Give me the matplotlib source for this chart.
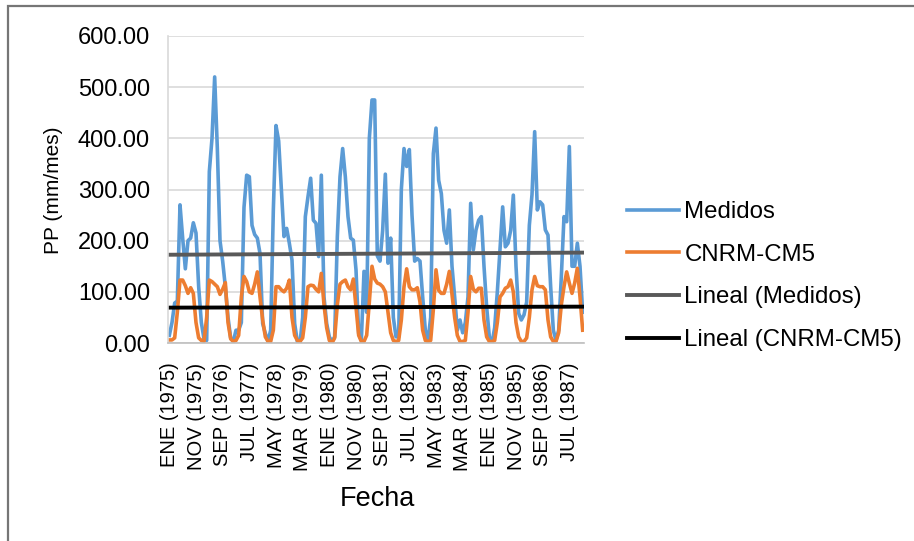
import numpy as np
import matplotlib
matplotlib.use("Agg")
import matplotlib.pyplot as plt
from matplotlib.patches import Rectangle

plt.rcParams["font.family"] = ["Liberation Sans", "DejaVu Sans"]

# Precipitación mensual, ENE 1975 - DIC 1987 (mm/mes)
medidos = [
    15, 40, 78, 82, 270, 205, 145, 200, 205, 235, 215, 110,
    40, 8, 5, 335, 400, 520, 380, 200, 160, 110, 50, 10,
    3, 25, 25, 40, 265, 328, 325, 230, 212, 205, 175, 38,
    19, 3, 25, 260, 425, 395, 300, 208, 224, 195, 162, 38,
    3, 0, 50, 247, 286, 322, 240, 234, 169, 328, 90, 38,
    12, 3, 12, 208, 325, 380, 325, 247, 205, 201, 143, 19,
    5, 140, 60, 400, 475, 475, 170, 160, 220, 330, 156, 205,
    50, 12, 12, 300, 380, 345, 378, 250, 160, 165, 160, 90,
    25, 5, 50, 370, 420, 318, 292, 220, 195, 260, 150, 90,
    25, 45, 20, 40, 90, 273, 182, 221, 240, 247, 150, 70,
    12, 0, 30, 100, 182, 266, 188, 195, 220, 289, 150, 58,
    45, 55, 80, 230, 290, 413, 260, 276, 270, 221, 211, 110,
    25, 5, 25, 130, 247, 237, 384, 150, 150, 195, 150, 60,
]

cnrm_cm5 = [
    6, 6, 10, 60, 123, 123, 112, 97, 108, 97, 40, 10,
    5, 3, 50, 123, 120, 115, 110, 95, 105, 118, 40, 8,
    3, 5, 15, 90, 130, 120, 100, 97, 115, 139, 90, 45,
    12, 3, 3, 25, 110, 110, 104, 100, 107, 123, 50, 15,
    5, 3, 10, 50, 110, 113, 112, 105, 100, 136, 75, 30,
    5, 0, 10, 75, 115, 120, 123, 110, 104, 125, 70, 15,
    3, 3, 15, 80, 150, 125, 117, 115, 110, 100, 60, 20,
    5, 3, 5, 45, 110, 145, 110, 104, 104, 108, 80, 25,
    5, 3, 5, 65, 143, 103, 97, 97, 115, 140, 95, 50,
    15, 3, 3, 5, 60, 130, 105, 100, 107, 107, 45, 12,
    3, 3, 5, 40, 90, 97, 107, 110, 123, 100, 40, 12,
    3, 3, 10, 50, 104, 130, 112, 110, 110, 104, 45, 12,
    3, 3, 20, 75, 110, 139, 117, 97, 117, 146, 90, 25,
]

etiquetas = [
    "ENE (1975)", "NOV (1975)", "SEP (1976)", "JUL (1977)",
    "MAY (1978)", "MAR (1979)", "ENE (1980)", "NOV (1980)",
    "SEP (1981)", "JUL (1982)", "MAY (1983)", "MAR (1984)",
    "ENE (1985)", "NOV (1985)", "SEP (1986)", "JUL (1987)",
]
paso_etiquetas = 10

y_ticks = [0, 100, 200, 300, 400, 500, 600]

x = np.arange(len(medidos))
med = np.array(medidos, dtype=float)
cnrm = np.array(cnrm_cm5, dtype=float)

# Líneas de tendencia (ajuste lineal)
p_med = np.polyfit(x, med, 1)
p_cnrm = np.polyfit(x, cnrm, 1)

fig = plt.figure(figsize=(9.14, 5.41), dpi=100)
ax = fig.add_axes([168 / 914, 1 - 343 / 541, (584 - 168) / 914, (343 - 36) / 541])

ax.plot(x, med, color="#5B9BD5", lw=2.6, label="Medidos", solid_joinstyle="round")
ax.plot(x, cnrm, color="#ED7D31", lw=2.6, label="CNRM-CM5", solid_joinstyle="round")
ax.plot(x, np.polyval(p_med, x), color="#595959", lw=2.8, label="Lineal (Medidos)")
ax.plot(x, np.polyval(p_cnrm, x), color="#000000", lw=2.8, label="Lineal (CNRM-CM5)")

ax.set_xlim(-0.5, len(medidos) - 0.5)
ax.set_ylim(0, 600)
ax.set_yticks(y_ticks)
ax.set_yticklabels([f"{v:.2f}" for v in y_ticks], fontsize=17)
ax.set_xticks(x[::paso_etiquetas])
ax.set_xticklabels(etiquetas, rotation=90, fontsize=14.5, va="top", ha="center")
ax.tick_params(axis="both", length=0)
ax.tick_params(axis="y", pad=13)
ax.tick_params(axis="x", pad=14)

ax.grid(axis="y", color="#D9D9D9", lw=1.2)
ax.set_axisbelow(True)
for lado in ["top", "right"]:
    ax.spines[lado].set_visible(False)
ax.spines["left"].set_color("#D9D9D9")
ax.spines["bottom"].set_color("#BFBFBF")
ax.spines["left"].set_linewidth(1.2)
ax.spines["bottom"].set_linewidth(1.2)

ax.set_xlabel("Fecha", fontsize=19.5)
ax.xaxis.set_label_coords((377 - 168) / 416, -(486 - 343) / 307)
ax.set_ylabel("PP (mm/mes)", fontsize=15)
ax.yaxis.set_label_coords(-(168 - 63) / 416, (343 - 190) / 307)

fig.legend(loc="center left", bbox_to_anchor=(605 / 914, 1 - 276 / 541),
           frameon=False, fontsize=17.3, handlelength=2.2,
           handletextpad=0.2, labelspacing=0.86)

# Marco del área del gráfico
fig.add_artist(Rectangle((8 / 914, -0.2), 1.2, 0.2 + 1 - 6 / 541,
                         transform=fig.transFigure, fill=False,
                         edgecolor="#767676", lw=1.6))

fig.savefig("out.png", dpi=100)
